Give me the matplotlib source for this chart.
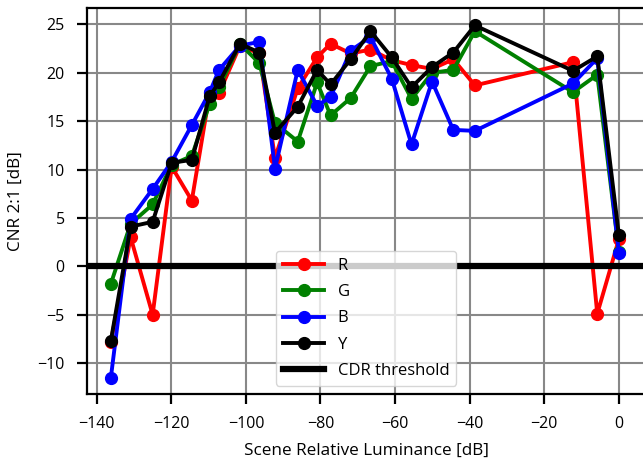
import matplotlib
matplotlib.use("Agg")
import matplotlib.pyplot as plt

# scene relative luminance [dB], shared by all channels
lum = [-136.2, -130.9, -125.0, -119.9, -114.5, -109.7, -107.2, -101.6, -96.4,
       -92.2, -86.1, -80.9, -77.3, -71.9, -66.6, -60.9, -55.6, -50.1, -44.4,
       -38.6, -12.3, -5.8, 0.0]

# CNR 2:1 [dB] per channel
cnr_r = [-7.8, 3.0, -5.0, 10.3, 6.8, 17.9, 17.9, 22.8, 22.0,
         11.2, 18.4, 21.6, 23.0, 22.0, 22.4, 21.3, 20.8, 20.4, 21.4,
         18.7, 21.1, -4.9, 2.8]
cnr_g = [-1.8, 4.4, 6.4, 10.5, 11.4, 16.8, 18.5, 23.0, 21.0,
         14.8, 12.9, 19.0, 15.6, 17.4, 20.7, 21.2, 17.3, 20.0, 20.3,
         24.3, 18.0, 19.8, 1.5]
cnr_b = [-11.5, 4.9, 8.0, 10.8, 14.6, 18.0, 20.3, 22.8, 23.2,
         10.1, 20.3, 16.6, 17.5, 22.3, 23.7, 19.4, 12.6, 19.1, 14.1,
         14.0, 18.9, 21.5, 1.4]
cnr_y = [-7.7, 4.1, 4.6, 10.7, 11.0, 17.6, 19.0, 23.0, 22.1,
         13.8, 16.5, 20.3, 18.8, 21.4, 24.3, 21.6, 18.5, 20.6, 22.1,
         24.9, 20.2, 21.7, 3.2]

cdr_threshold = 0

plt.rcParams['font.family'] = ['Open Sans', 'DejaVu Sans']

fig = plt.figure(figsize=(6.43, 4.66), dpi=100)
ax = fig.add_axes([87 / 643, 72 / 466, 558 / 643, 386 / 466])

ax.plot(lum, cnr_r, '-o', color='red', lw=2.8, ms=8.5, label='R')
ax.plot(lum, cnr_g, '-o', color='green', lw=2.8, ms=8.5, label='G')
ax.plot(lum, cnr_b, '-o', color='blue', lw=2.8, ms=8.5, label='B')
ax.plot(lum, cnr_y, '-o', color='black', lw=2.8, ms=8.5, label='Y')
ax.axhline(cdr_threshold, color='black', lw=4.5, label='CDR threshold')

ax.set_xlim(-142.6, 7)
ax.set_ylim(-13.2, 26.7)
ax.set_xticks([-140, -120, -100, -80, -60, -40, -20, 0])
ax.set_yticks([-10, -5, 0, 5, 10, 15, 20, 25])
ax.grid(True, color='#888888', lw=1.5)
ax.set_axisbelow(True)

for s in ax.spines.values():
    s.set_linewidth(1.6)
ax.tick_params(width=1.6, length=7, pad=9, labelsize=11.5)

ax.set_xlabel('Scene Relative Luminance [dB]', fontsize=12.3, labelpad=8)
ax.set_ylabel('CNR 2:1 [dB]', fontsize=12.3, labelpad=10)

ax.legend(loc='lower center', fontsize=12, framealpha=0.8,
          handlelength=2.5, labelspacing=0.62)

fig.savefig('out.png', dpi=100)
